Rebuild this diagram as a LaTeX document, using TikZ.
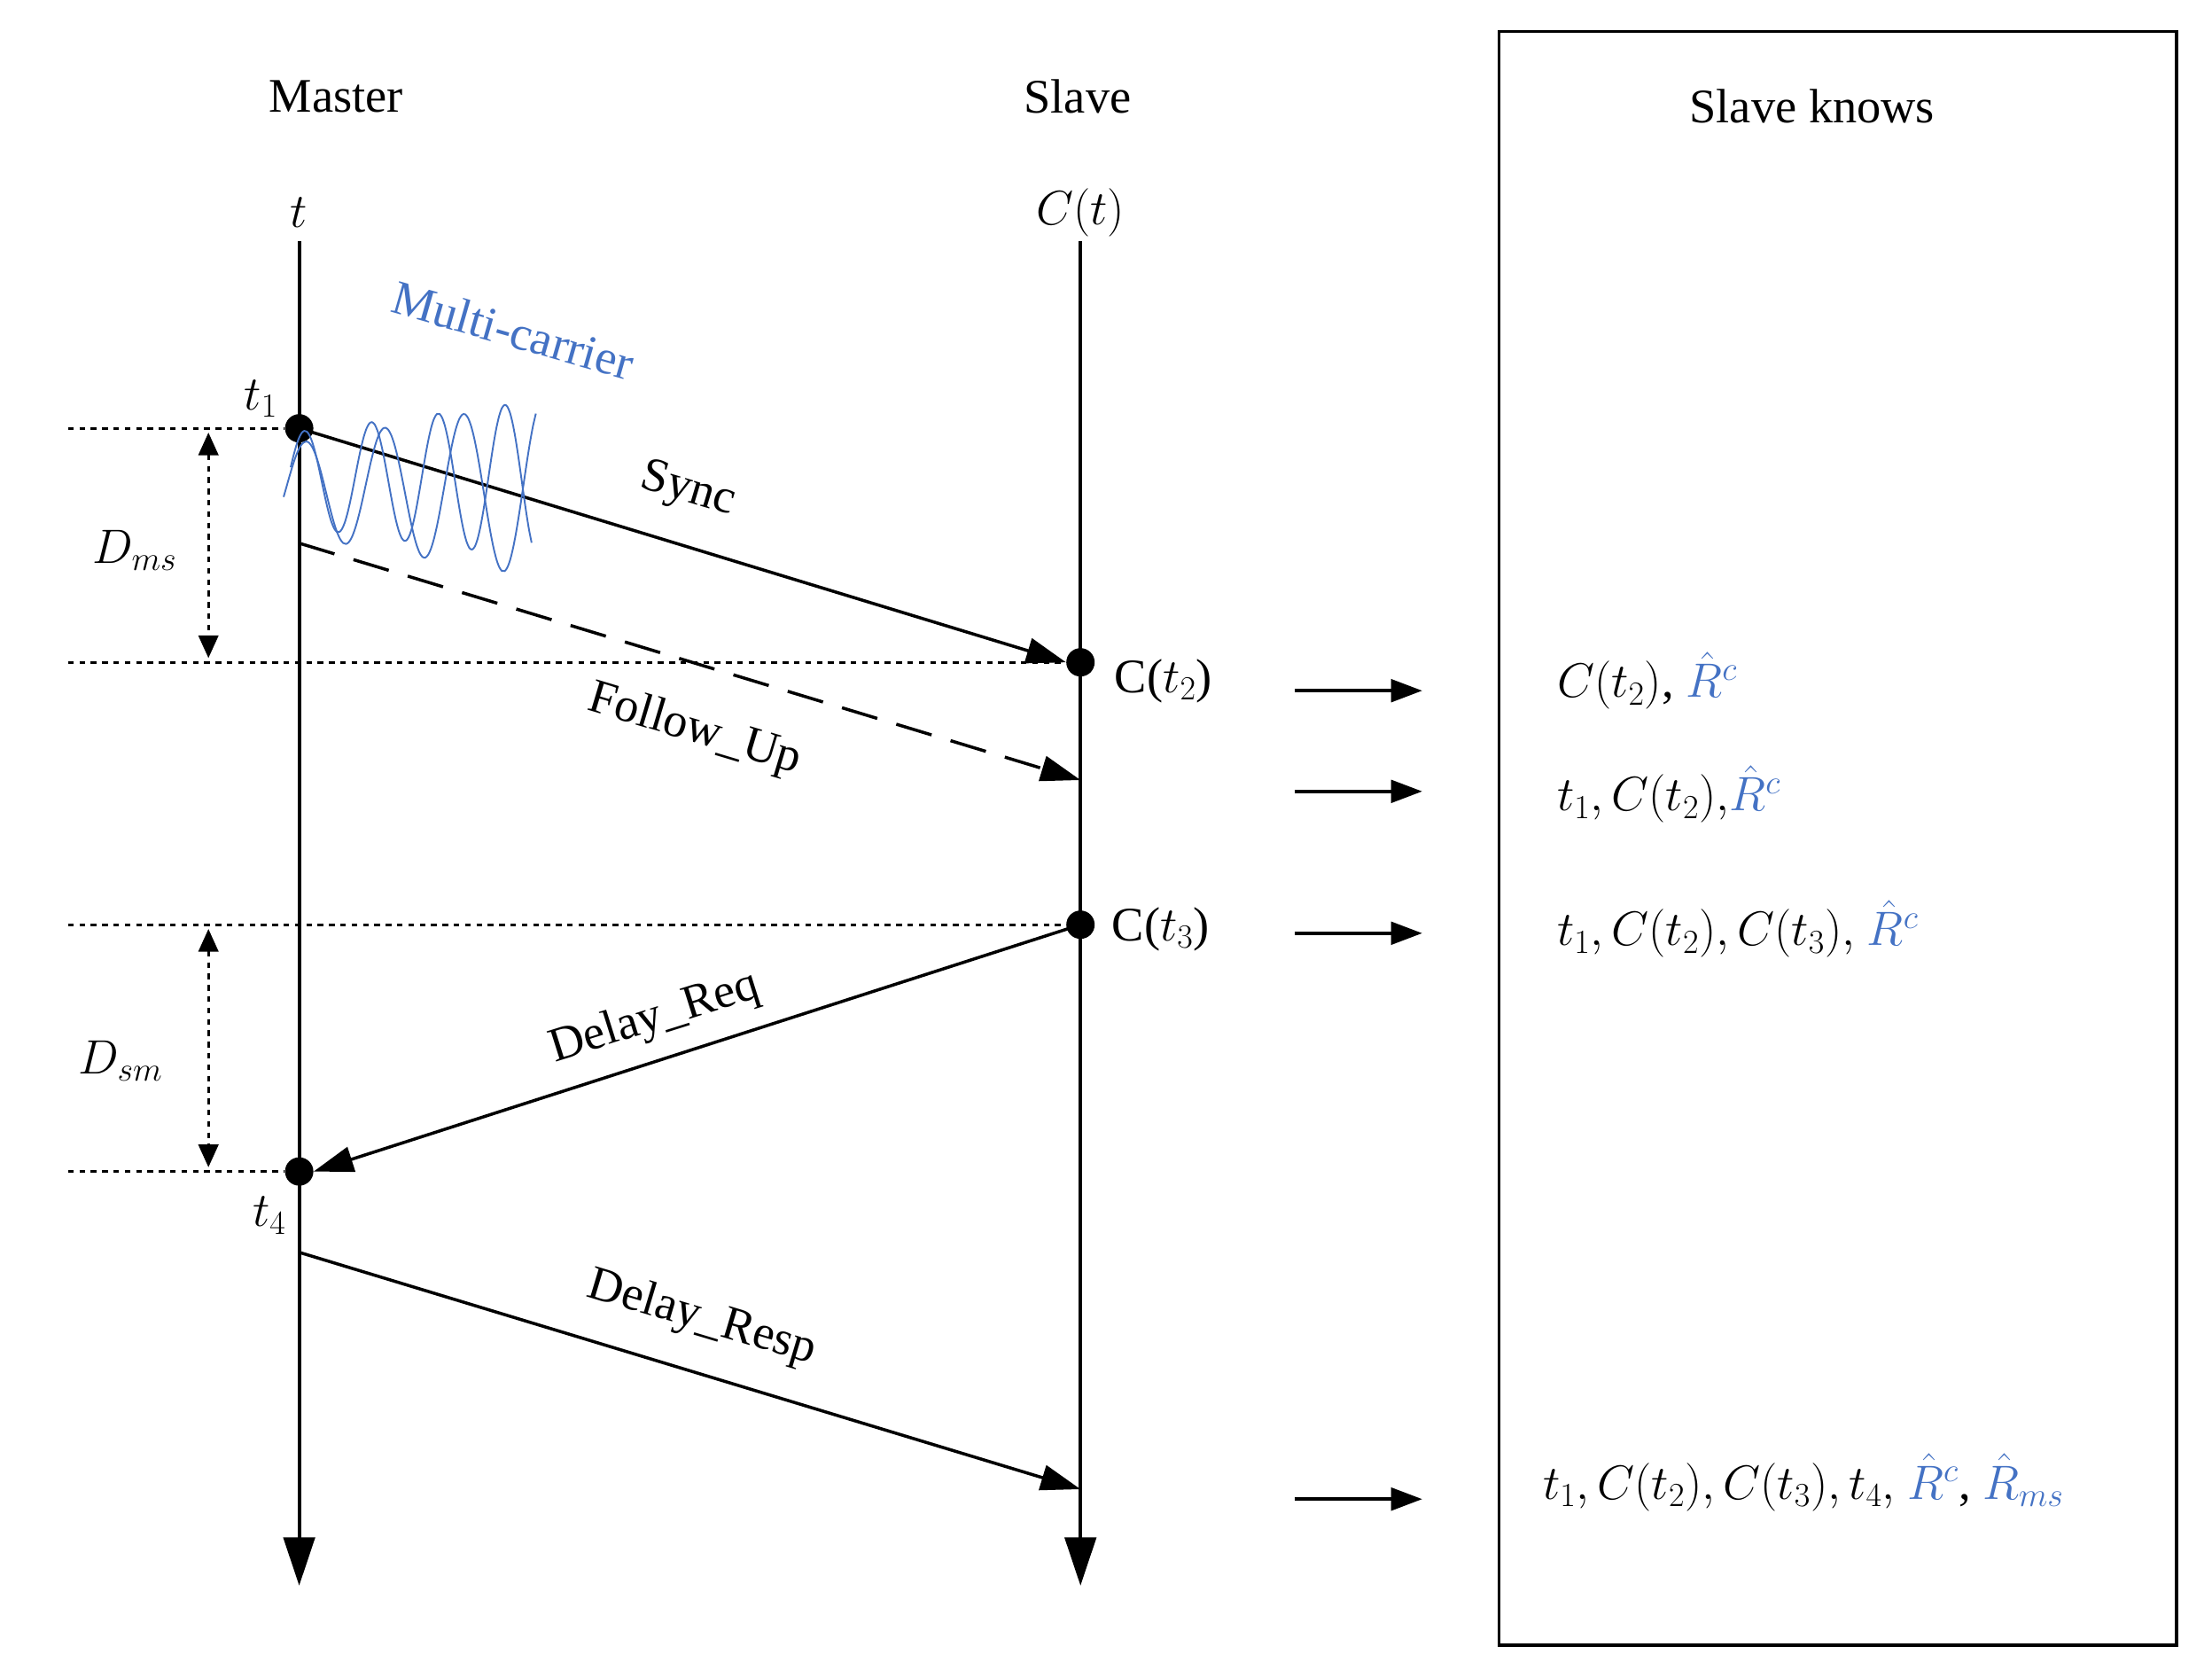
\RequirePackage{fix-cm}
\documentclass[tikz,border=0pt]{standalone}
\usepackage{fontspec}
\setmainfont{Liberation Serif}
\usetikzlibrary{arrows.meta}
\definecolor{mc}{RGB}{68,114,196}
\begin{document}
\begin{tikzpicture}[x=1pt,y=-1pt,
  every node/.style={font=\fontsize{34}{40}\selectfont},
  txt/.style={inner sep=0pt},
  msg/.style={line width=2.2pt,-{Triangle[length=28pt,width=18pt]}},
  dot/.style={circle,fill=black,inner sep=0pt,minimum size=20pt},
  dline/.style={line width=1.8pt,dash pattern=on 4pt off 4pt},
  know/.style={line width=2.2pt,-{Triangle[length=22pt,width=16pt]}}]
\useasboundingbox (0,0) rectangle (1560,1177);
% box
\draw[line width=2pt] (1057,22) rectangle (1535,1160);
\node[txt] (sk) at (1278,75) {Slave knows};
\node[txt] (ma) at (237,68) {Master};
\node[txt] (sl) at (760,68) {Slave};
\node[txt] (tt) at (211,150) {$t$};
\node[txt] (ct) at (762,150) {$C(t)$};
% time lines
\coordinate (mtop) at (211,170); \coordinate (mbot) at (211,1118);
\coordinate (stop) at (762,170); \coordinate (sbot) at (762,1118);
\draw[line width=2.6pt,-{Triangle[length=34pt,width=22pt]}] (mtop)--(mbot);
\draw[line width=2.6pt,-{Triangle[length=34pt,width=22pt]}] (stop)--(sbot);
% points
\node[dot] (t1) at (211,302) {};
\node[dot] (c2) at (762,467) {};
\node[dot] (c3) at (762,652) {};
\node[dot] (t4) at (211,826) {};
\coordinate (fu0) at (211,383); \coordinate (fu1) at (762,550);
\coordinate (dr0) at (211,883); \coordinate (dr1) at (762,1050);
\node[txt] (lt1) at (184,281) {$t_1$};
\node[txt] (lt4) at (190,857) {$t_4$};
\node[txt,anchor=west] (lc2) at (786,480) {C($t_2$)};
\node[txt,anchor=west] (lc3) at (784,655) {C($t_3$)};
% dotted reference lines
\coordinate (a1) at (48,302); \coordinate (a2) at (48,467);
\coordinate (a3) at (48,652); \coordinate (a4) at (48,826);
\draw[dline] (a1)--(t1); \draw[dline] (a2)--(c2);
\draw[dline] (a3)--(c3); \draw[dline] (a4)--(t4);
\coordinate (d1) at (147,305); \coordinate (d2) at (147,464);
\coordinate (d3) at (147,655); \coordinate (d4) at (147,823);
\draw[dline,{Triangle[length=16pt,width=14pt]}-{Triangle[length=16pt,width=14pt]}] (d1)--(d2);
\draw[dline,{Triangle[length=16pt,width=14pt]}-{Triangle[length=16pt,width=14pt]}] (d3)--(d4);
\node[txt] (dms) at (95,388) {$D_{ms}$};
\node[txt] (dsm) at (85,748) {$D_{sm}$};
% messages
\draw[msg] (t1.center)--(c2.west);
\draw[msg,dash pattern=on 26pt off 14pt] (fu0)--(fu1);
\draw[msg] (c3.center)--(t4.east);
\draw[msg] (dr0)--(dr1);
\node[txt,rotate=-16.7] (ls) at (485,346) {Sync};
\node[txt,rotate=-16.7] (lf) at (490,515) {Follow\_Up};
\node[txt,rotate=17.5] (lr) at (462,718) {Delay\_Req};
\node[txt,rotate=-16.7] (lp) at (495,930) {Delay\_Resp};
% multi-carrier
\node[txt,text=mc,rotate=-16] (mc) at (362,233) {Multi-carrier};
\draw[mc,line width=1.2pt,smooth,domain=0:1,samples=90] plot ({200+178*\x},{345-62*sin(1150*\x-10)*(0.5+0.5*\x)});
\draw[mc,line width=1.2pt,smooth,domain=0:1,samples=90] plot ({205+170*\x},{338-55*sin(1300*\x+15)*(0.6+0.4*\x)});
% slave knows arrows
\foreach \y/\n in {487/k1,558/k2,658/k3,1057/k4}{
  \coordinate (\n a) at (913,\y); \coordinate (\n b) at (1003,\y);
  \draw[know] (\n a)--(\n b);}
\node[txt,anchor=west] (s1) at (1098,480) {$C(t_2)$, \textcolor{mc}{$\hat{R}^c$}};
\node[txt,anchor=west] (s2) at (1098,560) {$t_1, C(t_2),$\textcolor{mc}{$\hat{R}^c$}};
\node[txt,anchor=west] (s3) at (1098,655) {$t_1, C(t_2), C(t_3),$ \textcolor{mc}{$\hat{R}^c$}};
\node[txt,anchor=west] (s4) at (1088,1045) {$t_1, C(t_2), C(t_3), t_4,$ \textcolor{mc}{$\hat{R}^c$}, \textcolor{mc}{$\hat{R}_{ms}$}};
\end{tikzpicture}
\end{document}
